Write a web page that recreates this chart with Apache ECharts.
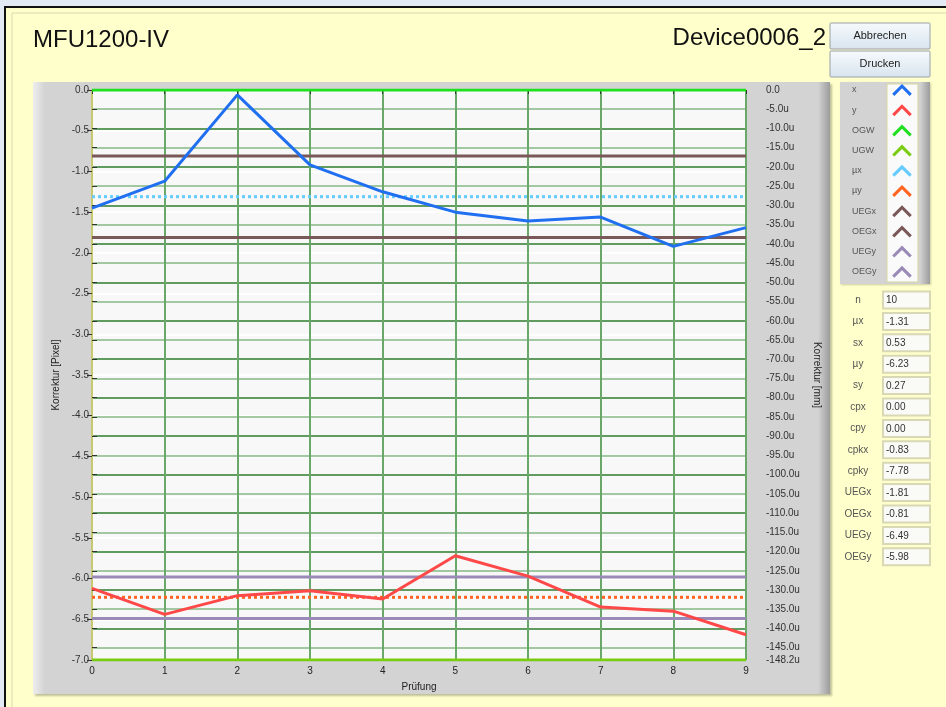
<!DOCTYPE html>
<html>
<head>
<meta charset="utf-8">
<script src="https://cdn.jsdelivr.net/npm/echarts@6/dist/echarts.min.js"></script>
<style>
html, body { margin: 0; padding: 0; background: #e4eaf4; }
#chart { width: 946px; height: 707px; }
</style>
</head>
<body>
<div id="chart"></div>
<script>
// Prüfung index
const trials = [0, 1, 2, 3, 4, 5, 6, 7, 8, 9];
// Korrektur [Pixel]
const xValues = [-1.45, -1.12, -0.06, -0.92, -1.25, -1.50, -1.61, -1.56, -1.92, -1.69];
const yValues = [-6.12, -6.44, -6.21, -6.15, -6.25, -5.72, -5.97, -6.35, -6.40, -6.69];
// horizontal limit / mean lines
const limitNames = ['OGW', 'UGW', 'µx', 'µy', 'UEGx', 'OEGx', 'UEGy', 'OEGy'];
const limitValues = [0, -7, -1.31, -6.23, -1.81, -0.81, -6.49, -5.98];
// statistics box
const statNames = ['n', 'µx', 'sx', 'µy', 'sy', 'cpx', 'cpy', 'cpkx', 'cpky', 'UEGx', 'OEGx', 'UEGy', 'OEGy'];
const statValues = ['10', '-1.31', '0.53', '-6.23', '0.27', '0.00', '0.00', '-0.83', '-7.78', '-1.81', '-0.81', '-6.49', '-5.98'];

const legendNames = ['x', 'y'].concat(limitNames);

const lineStyles = {
    'x':    { color: '#1f6ff0', type: 'solid' },
    'y':    { color: '#ff4848', type: 'solid' },
    'OGW':  { color: '#1ee01e', type: 'solid' },
    'UGW':  { color: '#7acc12', type: 'solid' },
    'µx':   { color: '#66ccff', type: [3, 3] },
    'µy':   { color: '#ff6420', type: [3, 3] },
    'UEGx': { color: '#7a5858', type: 'solid' },
    'OEGx': { color: '#7a5858', type: 'solid' },
    'UEGy': { color: '#9a8ab8', type: 'solid' },
    'OEGy': { color: '#9a8ab8', type: 'solid' }
};

const chart = echarts.init(document.getElementById('chart'));

const makeSeries = function (name, data) {
    const st = lineStyles[name];
    return {
        name: name,
        type: 'line',
        data: data,
        symbol: 'none',
        silent: true,
        z: (name === 'x' || name === 'y') ? 5 : 3,
        itemStyle: { color: st.color },
        lineStyle: { color: st.color, width: 3, type: st.type }
    };
};

let series = [
    makeSeries('x', trials.map((t, i) => [t, xValues[i]])),
    makeSeries('y', trials.map((t, i) => [t, yValues[i]]))
];
limitNames.forEach((n, i) => {
    series.push(makeSeries(n, [[trials[0], limitValues[i]], [trials[trials.length - 1], limitValues[i]]]));
});

// background boxes, buttons, stats
let graphics = [
    { type: 'rect', z: -20, shape: { x: 5, y: 7, width: 960, height: 720 },
      style: { fill: '#ffffcc', stroke: '#111', lineWidth: 2 } },
    { type: 'rect', z: -19, shape: { x: 12, y: 13, width: 960, height: 720 },
      style: { fill: 'none', stroke: '#d8d8b0', lineWidth: 1 } },
    // graph panel
    { type: 'rect', z: -18, shape: { x: 33, y: 82, width: 797, height: 612 },
      style: { fill: '#d3d3d3', shadowColor: 'rgba(0,0,0,0.25)', shadowOffsetX: 2, shadowOffsetY: 2, shadowBlur: 2 } },
    { type: 'rect', z: -17, shape: { x: 33, y: 82, width: 12, height: 612 },
      style: { fill: new echarts.graphic.LinearGradient(0, 0, 1, 0, [{ offset: 0, color: '#eeeeee' }, { offset: 1, color: '#d3d3d3' }]) } },
    { type: 'rect', z: -17, shape: { x: 818, y: 82, width: 12, height: 612 },
      style: { fill: new echarts.graphic.LinearGradient(0, 0, 1, 0, [{ offset: 0, color: '#d3d3d3' }, { offset: 1, color: '#9c9c9c' }]) } },
    // legend panel
    { type: 'rect', z: -18, shape: { x: 840, y: 82, width: 90, height: 202 },
      style: { fill: '#d3d3d3', shadowColor: 'rgba(0,0,0,0.2)', shadowOffsetX: 1, shadowOffsetY: 1, shadowBlur: 2 } },
    { type: 'rect', z: -17, shape: { x: 920, y: 82, width: 10, height: 202 },
      style: { fill: new echarts.graphic.LinearGradient(0, 0, 1, 0, [{ offset: 0, color: '#d3d3d3' }, { offset: 1, color: '#9c9c9c' }]) } },
    { type: 'rect', z: -16, shape: { x: 887, y: 84, width: 31, height: 198 },
      style: { fill: '#fafafa', stroke: '#d6d6a0', lineWidth: 1 } },
    // title texts
    { type: 'text', z: -10, x: 33, y: 40,
      style: { text: 'MFU1200-IV', font: '24px "Liberation Sans"', fill: '#111', verticalAlign: 'middle' } },
    { type: 'text', z: -10, x: 826, y: 38,
      style: { text: 'Device0006_2', font: '24px "Liberation Sans"', fill: '#111', align: 'right', verticalAlign: 'middle' } }
];

const buttons = [['Abbrechen', 23], ['Drucken', 51]];
buttons.forEach(b => {
    graphics.push({ type: 'rect', z: -10, shape: { x: 830, y: b[1], width: 100, height: 26, r: 1 },
        style: { fill: new echarts.graphic.LinearGradient(0, 0, 0, 1, [{ offset: 0, color: '#f6fafd' }, { offset: 1, color: '#d8e4ee' }]),
                 stroke: '#9aa0a6', lineWidth: 1 } });
    graphics.push({ type: 'text', z: -9, x: 880, y: b[1] + 13,
        style: { text: b[0], font: '11px "Liberation Sans Narrow", "Liberation Sans"', fill: '#222', align: 'center', verticalAlign: 'middle' } });
});

// legend labels (left aligned, as in the panel)
legendNames.forEach((n, i) => {
    graphics.push({ type: 'text', z: -9, x: 852, y: 90 + i * 20.2,
        style: { text: n, font: '9px "Liberation Sans"', fill: '#555', verticalAlign: 'middle' } });
});

statNames.forEach((n, i) => {
    const cy = 300 + i * 21.4;
    graphics.push({ type: 'text', z: -9, x: 858, y: cy,
        style: { text: n, font: '10px "Liberation Sans"', fill: '#555', align: 'center', verticalAlign: 'middle' } });
    graphics.push({ type: 'rect', z: -10, shape: { x: 883, y: cy - 8.5, width: 47, height: 17 },
        style: { fill: '#fafaf6', stroke: '#d8d8b4', lineWidth: 2 } });
    graphics.push({ type: 'text', z: -9, x: 886, y: cy + 0.5,
        style: { text: statValues[i], font: '10px "Liberation Sans"', fill: '#333', verticalAlign: 'middle' } });
});

chart.setOption({
    animation: false,
    textStyle: { fontFamily: '"Liberation Sans", Arial, sans-serif' },
    graphic: { elements: graphics },
    grid: {
        left: 92, top: 90, width: 654, height: 570,
        show: true, backgroundColor: '#f8f8f8', borderWidth: 0
    },
    legend: {
        orient: 'vertical',
        left: 889, top: 84, padding: 0,
        itemWidth: 26, itemHeight: 12, itemGap: 8.2,
        icon: 'path://M0,9 L9,0 L18,9 L16,11 L9,4 L2,11 Z',
        selectedMode: false,
        formatter: () => '',
        textStyle: { fontSize: 9 },
        data: legendNames
    },
    xAxis: {
        type: 'value', min: 0, max: 9, interval: 1,
        name: 'Prüfung', nameLocation: 'middle', nameGap: 22,
        nameTextStyle: { fontSize: 10, color: '#222' },
        axisLine: { show: true, lineStyle: { color: '#d6d68c', width: 2 } },
        axisTick: { show: true, length: 4, lineStyle: { color: '#333' } },
        axisLabel: { fontSize: 10, color: '#222', margin: 6 },
        splitLine: { show: true, lineStyle: { color: '#6aa86a', width: 2 } }
    },
    yAxis: [{
        type: 'value', min: -7, max: 0, interval: 0.5,
        position: 'left',
        name: 'Korrektur [Pixel]', nameLocation: 'middle', nameGap: 30,
        nameTextStyle: { fontSize: 10, color: '#222' },
        axisLine: { show: true, onZero: false, lineStyle: { color: '#c8c870', width: 2 } },
        axisTick: { show: true, length: 5, lineStyle: { color: '#333' } },
        axisLabel: { fontSize: 10, color: '#333', margin: 3, formatter: v => v.toFixed(1) },
        splitLine: { show: true, lineStyle: { color: '#ffffff', width: 2 } }
    }, {
        type: 'value', min: 0, max: 148.2, interval: 5, inverse: true,
        position: 'right', offset: 18,
        name: 'Korrektur [mm]', nameLocation: 'middle', nameGap: 48, nameRotate: -90,
        nameTextStyle: { fontSize: 10, color: '#222' },
        axisLine: { show: false },
        axisTick: { show: true, length: 5, inside: false, lineStyle: { color: '#333' } },
        axisLabel: {
            fontSize: 10, color: '#333', margin: 2, interval: 0,
            showMinLabel: true, showMaxLabel: true,
            formatter: v => v === 0 ? '0.0' : '-' + v.toFixed(1) + 'u'
        },
        splitLine: { show: true, lineStyle: { color: ['#2e7d2e', '#86b886'], width: 1.5 } }
    }],
    series: series
});
</script>
</body>
</html>
